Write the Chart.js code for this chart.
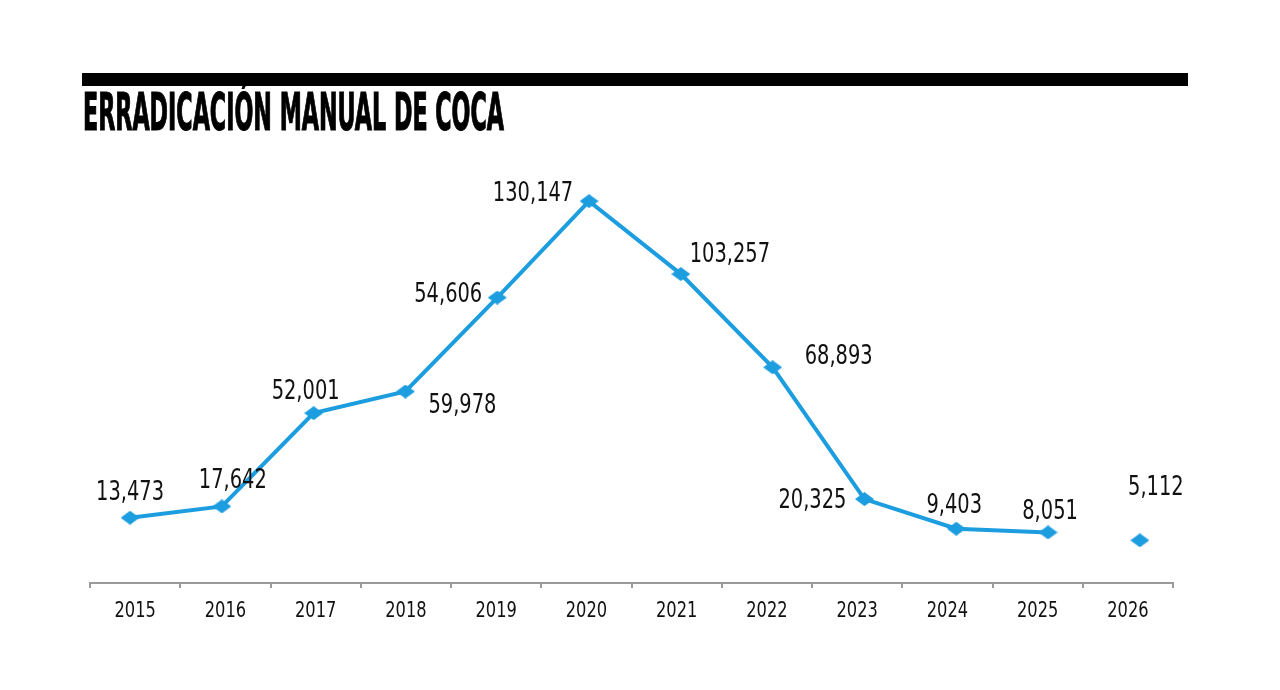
<!DOCTYPE html>
<html>
<head>
<meta charset="utf-8">
<title>Erradicación manual de coca</title>
<script src="https://cdn.jsdelivr.net/npm/chart.js@4"></script>
<style>
  html, body { margin: 0; padding: 0; background: #ffffff; }
  #wrap { width: 1280px; height: 690px; position: relative; }
</style>
</head>
<body>
<div id="wrap"><canvas id="cocaChart"></canvas></div>
<script>
"use strict";

// data
const years = ["2015", "2016", "2017", "2018", "2019", "2020", "2021", "2022", "2023", "2024", "2025", "2026"];
const hectares = [13473, 17642, 52001, 59978, 94606, 130147, 103257, 68893, 20325, 9403, 8051, 5112];
// labels as printed on the chart (2019 is printed as 54,606 but plotted near 94,600)
const printedLabels = ["13,473", "17,642", "52,001", "59,978", "54,606", "130,147", "103,257", "68,893", "20,325", "9,403", "8,051", "5,112"];
const title = "ERRADICACIÓN MANUAL DE COCA";

// where each value label sits relative to its point
const labelOffsets = [
    [0, -28], [11, -28], [-8, -24], [57, 11], [-49, -6], [-56, -10],
    [49, -22], [66, -13], [-52, -1], [-2, -26], [2, -23], [16, -55]
];

const BLUE = '#1c9ddf';
const NARROW = '"Liberation Sans Narrow", "DejaVu Sans Condensed", "Arial Narrow", sans-serif';

// flattened diamond marker
function diamond(w, h, color) {
    const c = document.createElement('canvas');
    c.width = w;
    c.height = h;
    const g = c.getContext('2d');
    g.fillStyle = color;
    g.beginPath();
    g.moveTo(w / 2, 0);
    g.lineTo(w, h / 2);
    g.lineTo(w / 2, h);
    g.lineTo(0, h / 2);
    g.closePath();
    g.fill();
    return c;
}
const marker = diamond(19, 14, BLUE);

// squeeze text horizontally, the print font is a tight condensed face
function narrowText(ctx, text, x, y, squeeze) {
    const w = ctx.measureText(text).width;
    ctx.fillText(text, x, y, w * squeeze);
}

const headerPlugin = {
    id: 'header',
    afterDraw(chart) {
        const ctx = chart.ctx;
        ctx.save();
        ctx.fillStyle = '#000000';
        ctx.fillRect(82, 73, 1106, 13);
        ctx.font = 'bold 51px ' + NARROW;
        ctx.textAlign = 'left';
        ctx.textBaseline = 'alphabetic';
        ctx.strokeStyle = '#000000';
        ctx.lineWidth = 1.2;
        ctx.fillText(title, 83, 130, 421);
        ctx.strokeText(title, 83, 130, 421);
        ctx.restore();
    }
};

const textPlugin = {
    id: 'texts',
    afterDraw(chart) {
        const ctx = chart.ctx;
        const meta = chart.getDatasetMeta(0);
        const xs = chart.scales.x;
        ctx.save();
        ctx.fillStyle = '#111111';
        ctx.textAlign = 'center';
        ctx.textBaseline = 'alphabetic';
        ctx.font = '27px ' + NARROW;
        meta.data.forEach(function _label(pt, i) {
            const off = labelOffsets[i];
            narrowText(ctx, printedLabels[i], pt.x + off[0], pt.y + off[1] + 10, 0.8);
        });
        ctx.font = '21px ' + NARROW;
        years.forEach(function _tick(year, i) {
            narrowText(ctx, year, xs.getPixelForTick(i), 617, 0.86);
        });
        ctx.restore();
    }
};

const lastIndex = hectares.length - 1;

new Chart(document.getElementById('cocaChart'), {
    type: 'line',
    data: {
        labels: years,
        datasets: [{
            xAxisID: 'xi',
            data: hectares.map((v, i) => ({ x: i, y: v })),
            borderColor: BLUE,
            backgroundColor: BLUE,
            borderWidth: 4,
            tension: 0,
            fill: false,
            pointStyle: marker,
            pointRadius: 9,
            pointHoverRadius: 9,
            segment: {
                // the last year is shown on its own, not joined to 2025
                borderColor: ctx => ctx.p1DataIndex === lastIndex ? 'rgba(0,0,0,0)' : BLUE
            }
        }]
    },
    options: {
        responsive: true,
        maintainAspectRatio: false,
        animation: false,
        events: [],
        layout: { padding: { top: 150, left: 90, right: 107, bottom: 47 } },
        plugins: {
            legend: { display: false },
            tooltip: { enabled: false },
            title: { display: false }
        },
        scales: {
            x: {
                type: 'category',
                offset: true,
                afterFit(scale) { scale.height = 60; },
                border: { display: true, color: '#9a9a9a', width: 2 },
                grid: {
                    offset: true,
                    drawOnChartArea: false,
                    drawTicks: true,
                    tickLength: 5,
                    color: '#9a9a9a',
                    lineWidth: 2
                },
                ticks: { display: false }
            },
            // point positions run on a slightly wider step than the year ticks
            xi: {
                type: 'linear',
                display: false,
                min: -0.436,
                max: 11.361
            },
            y: {
                display: false,
                min: -10600,
                max: 149000
            }
        }
    },
    plugins: [headerPlugin, textPlugin]
});
</script>
</body>
</html>
